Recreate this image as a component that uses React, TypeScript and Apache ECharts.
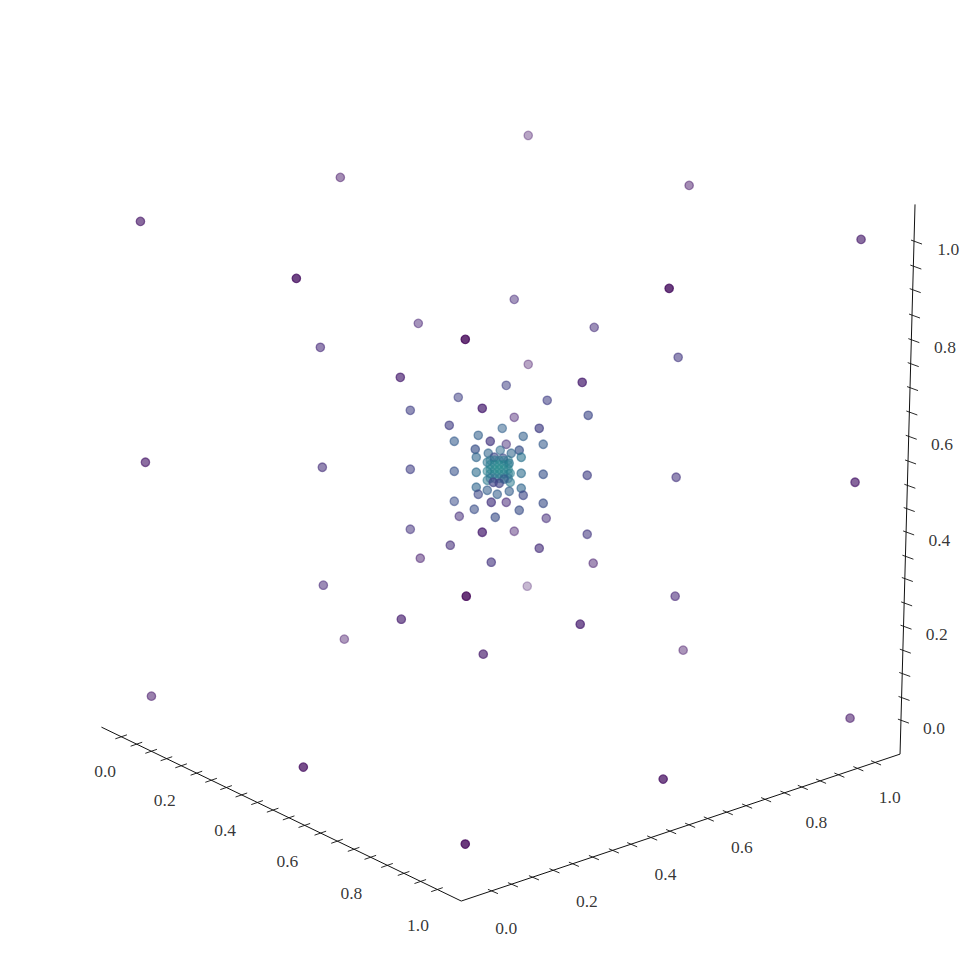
import React, { useEffect, useRef } from "react";
import * as echarts from "echarts";

// [screen x, screen y, colour value on viridis, depth-shade opacity]
const outerShell = [
  [528,135,.06,.48],[340,177,.06,.62],[689,185,.06,.62],[140,221,.06,.8],[861,239,.07,.8],
  [296,278,.04,.97],[669,288,.03,1],[465,339,.01,1],[145,462,.06,.78],[855,482,.06,.82],
  [151,696,.06,.68],[850,718,.06,.7],[303,767,.04,.92],[663,779,.04,.92],[465,844,.02,1],
  [466,596,.01,1],[344,639,.06,.55],[683,650,.06,.57],
];
const middleShell = [
  [514,299,.12,.62],[418,323,.1,.62],[594,327,.13,.67],[320,347,.12,.72],[678,357,.16,.72],
  [528,364,.06,.48],[400,377,.08,.83],[582,382,.08,.88],[506,385,.19,.67],[458,397,.19,.67],
  [547,400,.19,.72],[410,410,.19,.72],[482,408,.08,.88],[588,415,.22,.77],[514,417,.09,.57],
  [449,425,.18,.77],[539,428,.18,.82],[322,467,.13,.72],[410,469,.19,.72],[587,475,.19,.77],
  [676,477,.15,.72],[410,529,.15,.67],[482,532,.08,.88],[514,531,.08,.57],[587,534,.16,.72],
  [450,545,.13,.72],[539,548,.13,.77],[420,558,.08,.62],[491,562,.15,.77],[593,563,.08,.62],
  [323,585,.11,.67],[527,586,.06,.38],[675,596,.11,.72],[401,619,.08,.82],[580,624,.08,.88],
  [483,654,.07,.82],
];
const innerShell = [
  [502,428,.31,.67],[478,435,.31,.72],[523,436,.31,.72],[490,441,.16,.82],[454,441,.29,.72],
  [543,444,.29,.72],[506,444,.13,.62],[475,449,.25,.82],[519,450,.25,.82],[454,471,.26,.72],
  [543,474,.26,.77],[454,501,.24,.67],[543,503,.24,.77],[474,509,.24,.72],[519,510,.24,.77],
  [491,502,.15,.82],[506,502,.11,.67],[459,516,.13,.67],[546,518,.13,.67],[495,517,.24,.77],
  [476,457,.33,.75],[521,457,.38,.75],[488,453,.33,.72],[511,453,.33,.72],[500,450,.35,.65],
  [487,462,.38,.65],[509,463,.38,.65],[476,472,.36,.75],[521,473,.36,.75],[487,471,.42,.6],
  [510,473,.42,.6],[487,480,.4,.65],[510,482,.4,.65],[476,487,.33,.75],[521,488,.33,.75],
  [478,494,.22,.72],[523,495,.22,.77],[487,490,.3,.72],[509,491,.3,.72],[497,494,.3,.72],
];
const corePoints = [
  [494,457,.22,.75],[503,458,.22,.65],[490,460,.4,.5],[494.5,460,.4,.5],[499,460,.42,.5],[503.5,460,.4,.5],
  [508,460,.4,.5],[490,464.5,.42,.5],[494.5,464.5,.44,.5],[499,464.5,.46,.5],[503.5,464.5,.44,.5],[508,464.5,.42,.5],
  [490,469,.44,.5],[494.5,469,.46,.5],[499,469,.48,.55],[503.5,469,.46,.5],[508,469,.44,.5],[490,473.5,.42,.5],
  [494.5,473.5,.44,.5],[499,473.5,.46,.5],[503.5,473.5,.44,.5],[508,473.5,.42,.5],[490,478,.36,.5],[494.5,478,.38,.5],
  [499,478,.4,.5],[503.5,478,.38,.5],[508,478,.36,.5],[493,482,.2,.8],[499,483,.2,.8],[504,479,.28,.6],
];

// axis frame, in screen units of the figure
const xAxisLine = [[101,727],[461,901]];
const yAxisLine = [[461,901],[900,754]];
const zAxisLine = [[900,754],[915,204]];
const xTicks = [
  [120.7,736.7],[136,744.1],[150.7,751.2],[166,758.6],[180.7,765.7],[196,773.1],[210.7,780.2],
  [225.7,787.5],[241,794.9],[256.7,802.5],[272.3,810.1],[288.3,817.8],[304,825.4],[320,833.1],
  [336.7,841.2],[353.3,849.3],[370,857.3],[386.7,865.4],[403.3,873.4],[420,881.5],[436.7,889.6],
];
const yTicks = [
  [491.7,891],[511.7,884.3],[532.7,877.3],[553.3,870.3],[572.7,863.8],[592.7,857.1],[612.7,850.4],
  [631,844.2],[651,837.5],[670,831.1],[689,824.8],[707.7,818.5],[726.7,812.1],[746,805.6],
  [765,799.2],[784.3,792.7],[801.7,786.9],[820,780.7],[838.3,774.6],[857.3,768.2],[875,762.3],
];
const zTicks = [
  [914,240.7],[913.3,265.7],[912.7,289.3],[912,314.7],[911.3,339.3],[910.7,363.3],[910,387.3],
  [909.3,411.7],[908.7,436],[908,460.7],[907.3,485],[906.7,508.3],[906.1,531.7],[905.4,556],
  [904.8,578.3],[904.1,602.7],[903.5,626],[902.8,650],[902.2,673.3],[901.5,697.3],[900.9,720],
];
const tickText = ["0.0","0.2","0.4","0.6","0.8","1.0"];
const xLabelAt = [[104.7,771],[164.3,800],[224.7,830],[287,860.7],[351,892.7],[417.7,925]];
const yLabelAt = [[506,928.3],[586.7,900.7],[665.3,874],[741.7,847.3],[816.3,821.7],[889.7,797.3]];
const zLabelAt = [[934,727.7],[936.7,634],[939.3,539.3],[942,444],[945,346.7],[948.3,248.3]];

const VIRIDIS = [
  [68,1,84],[72,36,117],[65,68,135],[53,95,141],[42,120,142],[33,145,140],[34,168,132],
];
function pointColor(c: number, a: number) {
  const t = Math.min(Math.max(c, 0), 0.6) * 10;
  const i = Math.min(Math.floor(t), VIRIDIS.length - 2);
  const f = t - i;
  const rgb = VIRIDIS[i].map((v, k) => Math.round(v + (VIRIDIS[i + 1][k] - v) * f));
  return `rgba(${rgb[0]},${rgb[1]},${rgb[2]},${a})`;
}

const INK = "#111111";
const frameLine = (data: number[][]) => ({
  type: "line" as const,
  data,
  showSymbol: false,
  silent: true,
  lineStyle: { color: INK, width: 1 },
  z: 1,
});
const tickSeries = (data: number[][], from: number[], to: number[]) => ({
  type: "custom" as const,
  data,
  silent: true,
  z: 1,
  encode: { x: 0, y: 1 },
  renderItem: (_: any, api: any) => {
    const p = api.coord([api.value(0), api.value(1)]);
    return {
      type: "line",
      shape: { x1: p[0] + from[0], y1: p[1] + from[1], x2: p[0] + to[0], y2: p[1] + to[1] },
      style: { stroke: INK, lineWidth: 0.9 },
    };
  },
});
const labelSeries = (data: number[][]) => ({
  type: "scatter" as const,
  data: data.map((v, i) => ({ value: v, name: tickText[i] })),
  symbolSize: 1,
  silent: true,
  itemStyle: { color: "rgba(0,0,0,0)" },
  label: {
    show: true,
    position: "inside" as const,
    formatter: (p: any) => p.name,
    color: "#000000",
    textBorderWidth: 0,
    fontFamily: "Liberation Serif",
    fontSize: 17.5,
    align: "center" as const,
    verticalAlign: "middle" as const,
  },
  z: 2,
});

export default function App() {
  const ref = useRef<HTMLDivElement>(null);
  useEffect(() => {
    document.body.style.margin = "0";
    document.body.style.background = "#fff";
    const chart = echarts.init(ref.current!, undefined, { renderer: "svg" });
    const points = [...outerShell, ...middleShell, ...innerShell, ...corePoints];
    chart.setOption({
      animation: false,
      backgroundColor: "#ffffff",
      grid: { left: 0.5, right: -0.5, top: 0.5, bottom: -0.5 },
      xAxis: { type: "value", min: 0, max: 971, show: false },
      yAxis: { type: "value", min: 0, max: 971, inverse: true, show: false },
      series: [
        frameLine(xAxisLine),
        frameLine(yAxisLine),
        frameLine(zAxisLine),
        tickSeries(xTicks, [-5.8, 2], [5.8, -2]),
        tickSeries(yTicks, [-4, -1.7], [6, 2.6]),
        tickSeries(zTicks, [-3, -1], [8, 3]),
        labelSeries(xLabelAt),
        labelSeries(yLabelAt),
        labelSeries(zLabelAt),
        {
          type: "scatter",
          data: points.map((p) => {
            const col = pointColor(p[2], p[3]);
            return {
              value: [p[0], p[1]],
              itemStyle: { color: col, borderColor: col, borderWidth: 1.3 },
            };
          }),
          symbolSize: 8.4,
          silent: true,
          z: 3,
        },
      ],
    });
    return () => chart.dispose();
  }, []);
  return <div ref={ref} style={{ width: 971, height: 971 }} />;
}
